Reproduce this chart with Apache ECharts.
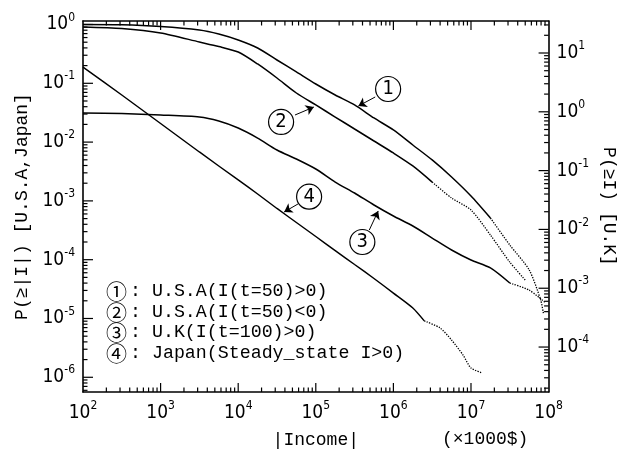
<!DOCTYPE html>
<html><head><meta charset="utf-8">
<script src="https://cdn.jsdelivr.net/npm/echarts@6/dist/echarts.min.js"></script>
<style>html,body{margin:0;padding:0;background:#fff}#c{width:626px;height:456px}</style>
</head><body><div id="c"></div>
<script>
// ---- data ----
// Curve 1: U.S.A (I(t=50)>0), left axis
const usaPosI = [1e2, 3.16e2, 1e3, 3.16e3, 5.62e3, 1e4, 1.78e4, 3.16e4, 5.62e4, 1e5, 1.78e5, 3.16e5, 5.62e5, 1e6, 1.78e6, 3.16e6, 5.62e6, 1e7, 1.78e7];
const usaPosP = [1.0, 0.99, 0.925, 0.806, 0.689, 0.545, 0.398, 0.249, 0.156, 0.0973, 0.0632, 0.0428, 0.0257, 0.0161, 0.00893, 0.00497, 0.00255, 0.00121, 0.000512];
const usaPosTailI = [1.78e7, 3.16e7, 5.62e7, 7.9e7, 8.6e7];
const usaPosTailP = [0.000512, 0.000178, 0.000067, 0.0000207, 0.000012];
// Curve 2: U.S.A (I(t=50)<0), left axis
const usaNegI = [1e2, 3.16e2, 1e3, 3.16e3, 5.62e3, 1e4, 1.78e4, 3.16e4, 5.62e4, 1e5, 1.78e5, 3.16e5, 5.62e5, 1e6, 1.78e6, 3.16e6];
const usaNegP = [0.907, 0.855, 0.717, 0.504, 0.422, 0.340, 0.213, 0.123, 0.0684, 0.0428, 0.0267, 0.0167, 0.01044, 0.00653, 0.00393, 0.00209];
const usaNegTailI = [3.16e6, 5.62e6, 1e7, 1.78e7, 3.16e7, 5.0e7];
const usaNegTailP = [0.00209, 0.00112, 0.0007, 0.000263, 0.000091, 0.000045];
// Curve 3: U.K (I(t=100)>0), right axis
const ukI = [1e2, 3.16e2, 1e3, 3.16e3, 5.62e3, 1e4, 1.78e4, 3.16e4, 5.62e4, 1e5, 1.78e5, 3.16e5, 5.62e5, 1e6, 1.78e6, 3.16e6, 5.62e6, 1e7, 1.78e7, 3.16e7];
const ukP = [0.954, 0.935, 0.883, 0.817, 0.698, 0.530, 0.358, 0.224, 0.1575, 0.1065, 0.064, 0.0416, 0.026, 0.0169, 0.01143, 0.00714, 0.00447, 0.00302, 0.00221, 0.001225];
const ukTailI = [3.16e7, 5.62e7, 8.9e7];
const ukTailP = [0.001225, 0.00093, 0.00058];
// Curve 4: Japan (Steady_state I>0), left axis
const japanI = [1e2, 3.16e2, 1e3, 3.16e3, 1e4, 1.78e4, 3.16e4, 5.62e4, 1e5, 1.78e5, 3.16e5, 5.62e5, 1e6, 1.78e6, 2.5e6];
const japanP = [0.189, 0.0632, 0.0207, 0.00679, 0.00227, 0.00131, 0.000743, 0.000429, 0.000248, 0.000143, 0.0000828, 0.0000479, 0.0000271, 0.0000151, 0.0000091];
const japanTailI = [2.5e6, 4e6, 5.62e6, 7.9e6, 1e7, 1.41e7];
const japanTailP = [0.0000091, 0.0000069, 0.0000043, 0.00000239, 0.00000144, 0.00000118];

// tick labels
const xMajor = [1e2, 1e3, 1e4, 1e5, 1e6, 1e7, 1e8];
const yLeftMajor = [1e-6, 1e-5, 1e-4, 1e-3, 1e-2, 1e-1, 1e0];
const yRightMajor = [1e-4, 1e-3, 1e-2, 1e-1, 1e0, 1e1];
const legendLines = ['U.S.A(I(t=50)>0)', 'U.S.A(I(t=50)<0)', 'U.K(I(t=100)>0)', 'Japan(Steady_state I>0)'];
const legendMarks = ['①', '②', '③', '④'];

const XMIN = 1e2, XMAX = 1e8, YLMIN = 5.62e-7, YLMAX = 1.147, YRMIN = 1.72e-5, YRMAX = 35.0;
function minors(lo, hi, mn, mx) { const r = []; for (let e = lo; e < hi; e++) for (let m = 2; m <= 9; m++) { const v = m * Math.pow(10, e); if (v > mn && v < mx) r.push(v); } return r; }
const xMinor = minors(2, 8, XMIN, XMAX), yLeftMinor = minors(-7, 1, YLMIN, YLMAX), yRightMinor = minors(-5, 2, YRMIN, YRMAX);
const xMajorInner = xMajor.filter(v => v > XMIN && v < XMAX);
const zip = (a, b) => a.map((v, i) => [v, b[i]]);

const FL = "'Liberation Sans Narrow','DejaVu Sans Condensed','Liberation Sans',sans-serif";
const FT = "'Liberation Mono','DejaVu Sans Mono','Noto Sans CJK JP',monospace";
const rich = { b: { fontSize: 19, fontFamily: FL, color: '#000', lineHeight: 26 }, s: { fontSize: 12, fontFamily: FL, color: '#000', verticalAlign: 'top', lineHeight: 12 } };
const fmt = v => '{b|10}{s|' + Math.round(Math.log10(v)) + '}';

function ax(pos, min, max, major, showLabel) {
  return {
    type: 'log', logBase: 10, min: min, max: max, position: pos,
    axisLine: { show: true, onZero: false, lineStyle: { color: '#000', width: 1.6 } },
    axisTick: { show: false },
    axisLabel: { show: showLabel, customValues: major, formatter: fmt, rich: rich, margin: 8 },
    splitLine: { show: false }, minorTick: { show: false }
  };
}
const nameStyle = { fontFamily: FT, fontSize: 18, color: '#000' };
const xAxis = [
  Object.assign(ax('bottom', XMIN, XMAX, xMajor, true), { name: '|Income|', nameLocation: 'middle', nameGap: 39, nameTextStyle: nameStyle }),
  ax('top', XMIN, XMAX, xMajor, false)
];
const yAxis = [
  Object.assign(ax('left', YLMIN, YLMAX, yLeftMajor, true), { name: 'P(≥|I|) [U.S.A,Japan]', nameLocation: 'middle', nameGap: 47, nameRotate: 90, nameTextStyle: nameStyle }),
  Object.assign(ax('right', YRMIN, YRMAX, yRightMajor, true), { name: 'P(≥I) [U.K]', nameLocation: 'middle', nameGap: 49, nameRotate: -90, nameTextStyle: nameStyle })
];

// inward tick marks, positioned through the axes' scales (custom series; anchors kept inside the plot)
const GRID = { left: 83, right: 73, top: 21, bottom: 64 };
const PLOT = { x: GRID.left, y: GRID.top, width: 626 - GRID.left - GRID.right, height: 456 - GRID.top - GRID.bottom };
function tickCustom(yi, vals, len, kind) {
  return {
    type: 'custom', xAxisIndex: 0, yAxisIndex: yi, z: 5,
    data: vals.map(v => kind === 'x' ? [v, yi === 0 ? 1e-3 : 1e-1] : [1e4, v]),
    renderItem: function (params, api) {
      try {
        const cs = (params && params.coordSys && isFinite(params.coordSys.height)) ? params.coordSys : PLOT;
        const p = api.coord([api.value(0), api.value(1)]);
        const st = { stroke: '#000', lineWidth: 1.2 };
        if (kind === 'x') {
          const yb = cs.y + cs.height, yt = cs.y;
          return { type: 'group', children: [
            { type: 'line', shape: { x1: p[0], y1: yb, x2: p[0], y2: yb - len }, style: st },
            { type: 'line', shape: { x1: p[0], y1: yt, x2: p[0], y2: yt + len }, style: st }] };
        }
        if (kind === 'yl') return { type: 'line', shape: { x1: cs.x, y1: p[1], x2: cs.x + len, y2: p[1] }, style: st };
        const xr = cs.x + cs.width;
        return { type: 'line', shape: { x1: xr, y1: p[1], x2: xr - len, y2: p[1] }, style: st };
      } catch (e) { return null; }
    }
  };
}
const tickSeries = [
  tickCustom(0, xMajorInner, 9, 'x'), tickCustom(0, xMinor, 4.5, 'x'),
  tickCustom(0, yLeftMajor, 10, 'yl'), tickCustom(0, yLeftMinor, 4.5, 'yl'),
  tickCustom(1, yRightMajor, 10, 'yr'), tickCustom(1, yRightMinor, 4.5, 'yr')
];

function circ(num, coord) {
  return { silent: true, symbol: 'circle', symbolSize: 25, itemStyle: { color: '#fff', borderColor: '#000', borderWidth: 1.2 },
    label: { show: true, position: 'inside', formatter: num, color: '#000', fontSize: 20, fontFamily: FL }, data: [{ coord: coord }] };
}
function arrow(from, to) {
  return { silent: true, symbol: ['none', 'arrow'], symbolSize: 8, lineStyle: { color: '#000', width: 1, type: 'solid' }, label: { show: false }, data: [[{ coord: from }, { coord: to }]] };
}
const solid = { color: '#000', width: 1.5 };
const dotted = { color: '#000', width: 1.3, type: 'dotted' };
function line(data, yi, style, extra) {
  return Object.assign({ type: 'line', xAxisIndex: 0, yAxisIndex: yi, data: data, symbol: 'none', showSymbol: false, smooth: 0.25, lineStyle: style, silent: true }, extra || {});
}
const series = [
  line(zip(usaPosI, usaPosP), 0, solid, { markPoint: circ('1', [8.55e5, 0.080]), markLine: arrow([5.83e5, 0.0585], [3.54e5, 0.0411]) }),
  line(zip(usaPosTailI, usaPosTailP), 0, dotted),
  line(zip(usaNegI, usaNegP), 0, solid, { markPoint: circ('2', [3.57e4, 0.0220]), markLine: arrow([5.4e4, 0.0289], [9.44e4, 0.0395]) }),
  line(zip(usaNegTailI, usaNegTailP), 0, dotted),
  line(zip(ukI, ukP), 1, solid, { markPoint: circ('3', [3.98e5, 0.00611]), markLine: arrow([4.89e5, 0.00977], [6.37e5, 0.0206]) }),
  line(zip(ukTailI, ukTailP), 1, dotted),
  line(zip(japanI, japanP), 0, solid, { markPoint: circ('4', [8.2e4, 0.00118]), markLine: arrow([5.89e4, 0.000886], [3.91e4, 0.000648]) }),
  line(zip(japanTailI, japanTailP), 0, dotted)
].concat(tickSeries);
const graphic = legendLines.map((t, i) => ({
  type: 'text', left: 106, top: 281 + i * 20.5, silent: true,
  style: { text: '{c|' + legendMarks[i] + '}{t|: ' + t + '}', rich: { c: { fontFamily: "'Noto Sans CJK JP'", fontSize: 21, width: 24, color: '#000' }, t: { fontFamily: FT, fontSize: 18.3, color: '#000' } } }
}));
graphic.push({ type: 'text', left: 442, top: 430, silent: true, style: { text: '(×1000$)', fontFamily: FT, fontSize: 18, fill: '#000' } });

const chart = echarts.init(document.getElementById('c'), null, { renderer: 'canvas' });
chart.setOption({
  animation: false, backgroundColor: '#fff',
  grid: { left: GRID.left, right: GRID.right, top: GRID.top, bottom: GRID.bottom, containLabel: false },
  xAxis: xAxis, yAxis: yAxis, series: series, graphic: graphic
});
</script></body></html>
